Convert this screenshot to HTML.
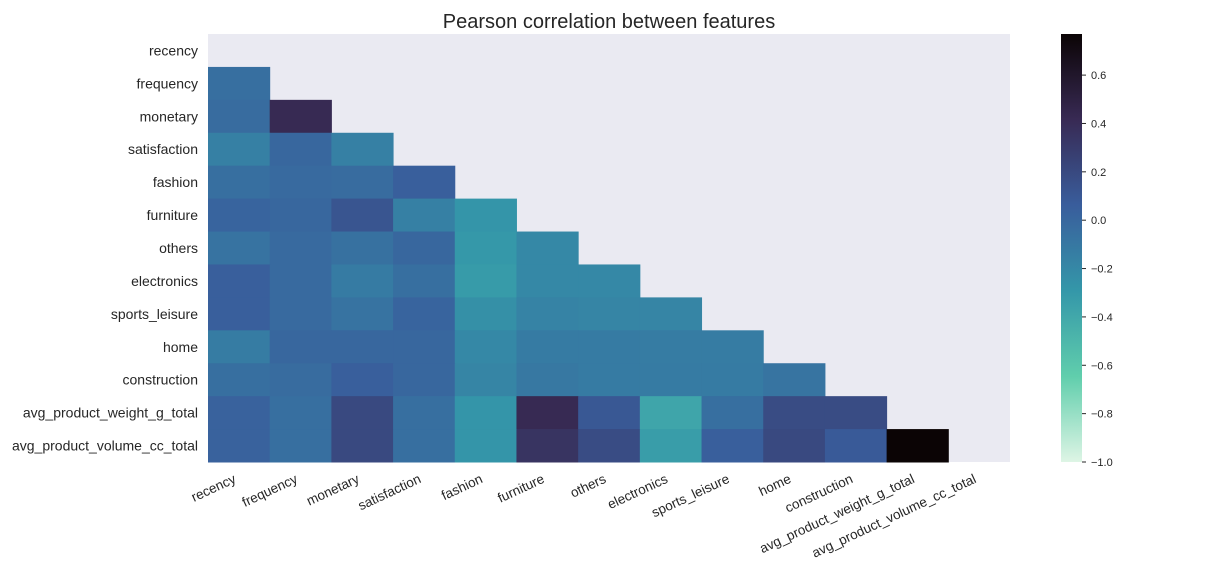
<!DOCTYPE html>
<html><head><meta charset="utf-8">
<style>
body{margin:0;background:#fff;font-family:"Liberation Sans",Arial,sans-serif;}
svg text{fill:#262626;font-family:"Liberation Sans",Arial,sans-serif;}
</style></head>
<body>
<svg id="chart" width="1224" height="576" xmlns="http://www.w3.org/2000/svg">
<defs>
<linearGradient id="cbg" x1="0" y1="1" x2="0" y2="0">
<stop offset="0" stop-color="#DEF5E5"/><stop offset="0.2" stop-color="#60CEAC"/>
<stop offset="0.4" stop-color="#3497A9"/><stop offset="0.6" stop-color="#395D9C"/>
<stop offset="0.8" stop-color="#382A54"/><stop offset="1" stop-color="#0B0405"/>
</linearGradient>
</defs>
<text x="609" y="28" text-anchor="middle" font-size="20">Pearson correlation between features</text>
<rect x="208" y="34" width="802" height="428" fill="#EAEAF2"/>
<g id="cells"></g><g id="labels"></g>
<rect x="1061" y="34" width="21" height="428" fill="url(#cbg)"/>
<g id="cbticks"></g>
</svg>
<script>
const features=["recency","frequency","monetary","satisfaction","fashion","furniture","others","electronics","sports_leisure","home","construction","avg_product_weight_g_total","avg_product_volume_cc_total"];
const rowFrequency=[-0.05];
const rowMonetary=[-0.03,0.42];
const rowSatisfaction=[-0.15,0.0,-0.15];
const rowFashion=[-0.05,-0.02,-0.03,0.05];
const rowFurniture=[0.02,0.0,0.12,-0.15,-0.28];
const rowOthers=[-0.07,-0.02,-0.06,0.0,-0.3,-0.2];
const rowElectronics=[0.05,-0.02,-0.12,-0.05,-0.32,-0.2,-0.2];
const rowSports=[0.05,-0.02,-0.07,0.02,-0.25,-0.17,-0.18,-0.18];
const rowHome=[-0.13,0.0,0.0,0.0,-0.2,-0.12,-0.12,-0.13,-0.13];
const rowConstruction=[-0.05,-0.03,0.05,0.0,-0.18,-0.1,-0.12,-0.12,-0.12,-0.08];
const rowWeight=[0.03,-0.05,0.2,-0.05,-0.28,0.42,0.1,-0.38,-0.05,0.18,0.18];
const rowVolume=[0.03,-0.05,0.2,-0.05,-0.28,0.35,0.18,-0.33,0.05,0.2,0.08,0.77];
const rows=[[],rowFrequency,rowMonetary,rowSatisfaction,rowFashion,rowFurniture,rowOthers,rowElectronics,rowSports,rowHome,rowConstruction,rowWeight,rowVolume];
const cbTicks=[0.6,0.4,0.2,0.0,-0.2,-0.4,-0.6,-0.8,-1.0];
const vmin=-1, vmax=0.77;
const X0=208,Y0=34,W=802,H=428,n=features.length,cw=W/n,ch=H/n;
const stops=[[0,[0xDE,0xF5,0xE5]],[0.2,[0x60,0xCE,0xAC]],[0.4,[0x34,0x97,0xA9]],[0.6,[0x39,0x5D,0x9C]],[0.8,[0x38,0x2A,0x54]],[1,[0x0B,0x04,0x05]]];
function color(v){let t=Math.max(0,Math.min(1,(v-vmin)/(vmax-vmin)));
 for(let i=0;i<stops.length-1;i++){const[a,ca]=stops[i],[b,cb]=stops[i+1];
  if(t<=b){const f=(t-a)/(b-a);return "rgb("+ca.map((c,k)=>Math.round(c+(cb[k]-c)*f)).join(",")+")";}}
 return "rgb(11,4,5)";}
const xs=j=>X0+j*cw, ys=i=>Y0+i*ch;
const NS="http://www.w3.org/2000/svg";
const cells=document.getElementById('cells'),labels=document.getElementById('labels'),cbt=document.getElementById('cbticks');
rows.forEach((r,i)=>r.forEach((v,j)=>{
 const e=document.createElementNS(NS,'rect');
 e.setAttribute('x',xs(j));e.setAttribute('y',ys(i));e.setAttribute('width',cw+0.5);e.setAttribute('height',ch+0.5);e.setAttribute('fill',color(v));
 
 
 cells.appendChild(e);}));
features.forEach((f,i)=>{
 const t=document.createElementNS(NS,'text');
 t.setAttribute('x',198);t.setAttribute('y',ys(i)+ch/2+5);t.setAttribute('text-anchor','end');t.setAttribute('font-size','14');t.textContent=f;
 
 
 labels.appendChild(t);
 const u=document.createElementNS(NS,'text');
 const cx=xs(i)+cw/2-2, cy=482;
 u.setAttribute('x',cx);u.setAttribute('y',cy);u.setAttribute('text-anchor','end');u.setAttribute('font-size','13.5');
 u.setAttribute('transform','rotate(-25 '+cx+' '+cy+')');u.textContent=f;
 
 
 labels.appendChild(u);});
cbTicks.forEach(v=>{
 const y=34+428*(vmax-v)/(vmax-vmin);
 const l=document.createElementNS(NS,'line');
 l.setAttribute('x1',1082);l.setAttribute('x2',1086);l.setAttribute('y1',y);l.setAttribute('y2',y);l.setAttribute('stroke','#262626');
 
 
 cbt.appendChild(l);
 const t=document.createElementNS(NS,'text');
 t.setAttribute('x',1091);t.setAttribute('y',y+4);t.setAttribute('font-size','11');
 t.textContent=(v<0?'\u2212':'')+Math.abs(v).toFixed(1);
 
 
 cbt.appendChild(t);});
</script>
</body></html>
